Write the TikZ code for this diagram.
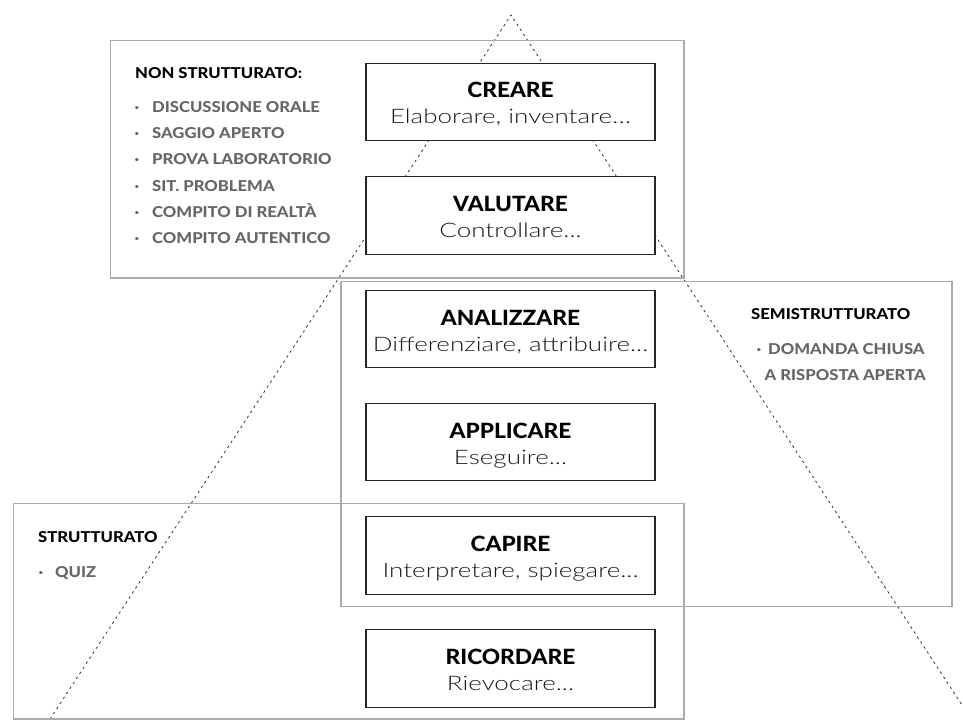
\documentclass[tikz,border=0pt]{standalone}
\usepackage{fontspec}
\setmainfont{Lato}
\newfontfamily\headfont{Lato Heavy}[FakeStretch=1.08]
\newfontfamily\lightfont{Lato Light}[FakeStretch=1.30]
\newfontfamily\tagfont{Lato Heavy}[FakeStretch=1.11]
\usetikzlibrary{calc}
\definecolor{framegray}{HTML}{ABABAB}
\definecolor{itemgray}{HTML}{666666}
\begin{document}
\begin{tikzpicture}[x=1pt,y=-1pt,
  level/.style={draw=black!85, fill=white, line width=1.1pt,
    minimum width=289pt, minimum height=77.5pt, inner sep=0pt},
  group/.style={draw=framegray, line width=1.1pt},
  head/.style={anchor=base, inner sep=0pt, text=black,
    font=\headfont\fontsize{21}{21}\selectfont},
  sub/.style={anchor=base, inner sep=0pt, text=black!90,
    font=\lightfont\fontsize{20}{20}\selectfont},
  title/.style={anchor=base west, inner sep=0pt, text=black,
    font=\tagfont\fontsize{15}{15}\selectfont},
  item/.style={anchor=base west, inner sep=0pt, text=itemgray,
    font=\tagfont\fontsize{15}{15}\selectfont},
  dot/.style={anchor=base, inner sep=0pt, text=itemgray,
    font=\tagfont\fontsize{15}{15}\selectfont},
  pyramid/.style={draw=black!80, line width=0.8pt, dash pattern=on 2.5pt off 3.5pt}]
\useasboundingbox (0,0) rectangle (963,722);

% dashed outline of the pyramid
\coordinate (apex) at (511,15);
\coordinate (baseL) at (50,719);
\coordinate (baseR) at (962,705);
\draw[pyramid] (baseL) -- (apex) -- (baseR);

% groups of assessment types
\draw[group] (110.7,40.7) rectangle (684,278);
\draw[group] (341,281.5) rectangle (952,606.5);
\draw[group] (13.3,503.3) rectangle (684,719);

% levels of the taxonomy
\node[level] (creare) at (510.5,102) {};
\node[head] (creare-h) at ($(creare.center)+(0,-4)$) {CREARE};
\node[sub]  (creare-s) at ($(creare.center)+(0,22)$) {Elaborare, inventare…};

\node[level] (valutare) at (510.5,215.4) {};
\node[head] (valutare-h) at ($(valutare.center)+(0,-4)$) {VALUTARE};
\node[sub]  (valutare-s) at ($(valutare.center)+(0,22)$) {Controllare...};

\node[level] (analizzare) at (510.5,329) {};
\node[head] (analizzare-h) at ($(analizzare.center)+(0,-4)$) {ANALIZZARE};
\node[sub]  (analizzare-s) at ($(analizzare.center)+(0,22)$) {Differenziare, attribuire...};

\node[level] (applicare) at (510.5,442) {};
\node[head] (applicare-h) at ($(applicare.center)+(0,-4)$) {APPLICARE};
\node[sub]  (applicare-s) at ($(applicare.center)+(0,22)$) {Eseguire...};

\node[level] (capire) at (510.5,555.5) {};
\node[head] (capire-h) at ($(capire.center)+(0,-4)$) {CAPIRE};
\node[sub]  (capire-s) at ($(capire.center)+(0,22)$) {Interpretare, spiegare...};

\node[level] (ricordare) at (510.5,668.5) {};
\node[head] (ricordare-h) at ($(ricordare.center)+(0,-4)$) {RICORDARE};
\node[sub]  (ricordare-s) at ($(ricordare.center)+(0,22)$) {Rievocare...};

% unstructured tests
\node[title] (ns) at (135,79) {NON STRUTTURATO:};
\foreach \t [count=\i from 0] in {DISCUSSIONE ORALE, SAGGIO APERTO,
    PROVA LABORATORIO, SIT. PROBLEMA, COMPITO DI REALTÀ, COMPITO AUTENTICO}{
  \node[dot]  (ns-dot-\i) at (137,113+26*\i) {·};
  \node[item] (ns-item-\i) at (152,113+26*\i) {\t};
}

% semi-structured tests
\node[title] (ss) at (751,319) {SEMISTRUTTURATO};
\node[dot]  (ss-dot) at (759,354) {·};
\node[item] (ss-item) at (768,354) {DOMANDA CHIUSA};
\node[item] (ss-item2) at (764.5,380) {A RISPOSTA APERTA};

% structured tests
\node[title] (st) at (38,542) {STRUTTURATO};
\node[dot]  (st-dot) at (41,577) {·};
\node[item] (st-item) at (55,577) {QUIZ};
\end{tikzpicture}
\end{document}
